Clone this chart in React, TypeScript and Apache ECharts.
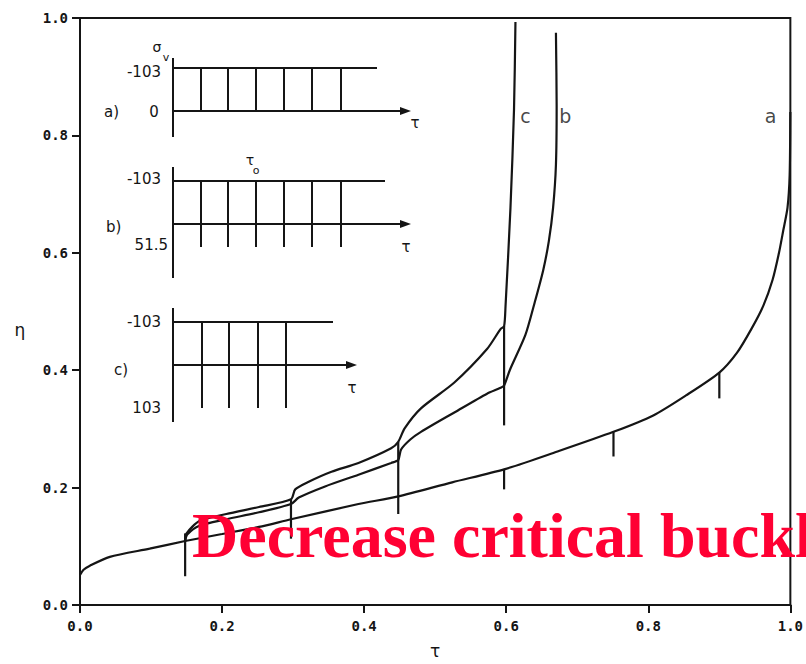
import React, { useEffect, useRef } from "react";
import * as echarts from "echarts";

// ---- data ----
const axisTicks = [0, 0.2, 0.4, 0.6, 0.8, 1.0];

const curveA: [number, number][] = [
  [0, 0.051], [0.005, 0.06], [0.014, 0.067], [0.042, 0.082], [0.098, 0.096],
  [0.148, 0.109], [0.2, 0.121], [0.252, 0.133], [0.297, 0.146], [0.392, 0.172],
  [0.448, 0.185], [0.524, 0.209], [0.597, 0.231], [0.671, 0.261], [0.751, 0.295],
  [0.807, 0.323], [0.853, 0.357], [0.9, 0.396], [0.925, 0.43], [0.945, 0.47],
  [0.962, 0.51], [0.975, 0.554], [0.984, 0.6], [0.99, 0.638], [0.996, 0.677],
  [0.999, 0.732], [1.0, 0.84],
];

const curveB: [number, number][] = [
  [0.148, 0.109], [0.151, 0.12], [0.168, 0.135], [0.206, 0.146], [0.252, 0.158],
  [0.297, 0.172], [0.308, 0.183], [0.345, 0.202], [0.392, 0.222], [0.438, 0.242],
  [0.448, 0.247], [0.452, 0.265], [0.465, 0.282], [0.48, 0.295], [0.527, 0.328],
  [0.573, 0.36], [0.592, 0.37], [0.597, 0.374], [0.605, 0.4], [0.627, 0.46],
  [0.64, 0.515], [0.652, 0.57], [0.66, 0.62], [0.666, 0.677], [0.67, 0.75],
  [0.671, 0.85], [0.67, 0.975],
];

const curveC: [number, number][] = [
  [0.148, 0.109], [0.15, 0.122], [0.168, 0.143], [0.206, 0.155], [0.252, 0.167],
  [0.297, 0.18], [0.303, 0.197], [0.322, 0.21], [0.354, 0.227], [0.392, 0.242],
  [0.438, 0.267], [0.448, 0.278], [0.457, 0.301], [0.48, 0.335], [0.527, 0.379],
  [0.573, 0.436], [0.592, 0.47], [0.597, 0.475], [0.599, 0.508], [0.606, 0.677],
  [0.611, 0.845], [0.613, 0.993],
];

// vertical jump lines (tau, top eta, bottom eta)
const jumpTau = [0.148, 0.297, 0.448, 0.597, 0.597, 0.751, 0.9];
const jumpTop = [0.122, 0.18, 0.278, 0.475, 0.231, 0.295, 0.396];
const jumpBottom = [0.049, 0.113, 0.155, 0.306, 0.197, 0.253, 0.352];

// curve labels
const curveLabelNames = ["c", "b", "a"];
const curveLabelTau = [0.627, 0.683, 0.972];
const curveLabelEta = [0.833, 0.833, 0.833];

// inset schematic texts
const insetNames = ["a)", "b)", "c)"];
const insetTopValues = ["-103", "-103", "-103"];
const insetBottomValues = ["0", "51.5", "103"];

const INK = "#151515";

function buildInsets(): any[] {
  const els: any[] = [];
  const line = (x1: number, y1: number, x2: number, y2: number) =>
    els.push({
      type: "line",
      shape: { x1, y1, x2, y2 },
      style: { stroke: INK, lineWidth: 2 },
    });
  const arrow = (x: number, y: number) =>
    els.push({
      type: "polygon",
      shape: { points: [[x, y], [x - 11, y - 4], [x - 11, y + 4]] },
      style: { fill: INK },
    });
  const txt = (
    s: string,
    x: number,
    y: number,
    align: string,
    size = 15
  ) =>
    els.push({
      type: "text",
      x,
      y,
      style: {
        text: s,
        fill: INK,
        fontSize: size,
        fontFamily: "DejaVu Sans",
        align,
        verticalAlign: "middle",
      },
    });

  const pulseX6 = [201, 228, 256, 284, 312, 341];
  const pulseX4 = [202, 229, 258, 286];

  // a)
  line(173, 58, 173, 137);
  line(173, 68, 377, 68);
  line(173, 111, 404, 111);
  arrow(411, 111);
  pulseX6.forEach((x) => line(x, 68, x, 111));
  txt("σ", 157, 47, "center", 14);
  txt("v", 166, 57, "center", 11);
  txt(insetTopValues[0], 161, 72, "right");
  txt(insetBottomValues[0], 154, 112, "center");
  txt(insetNames[0], 104, 112, "left");
  txt("τ", 415, 123, "center");

  // b)
  line(173, 167, 173, 278);
  line(173, 181, 385, 181);
  line(173, 224, 404, 224);
  arrow(411, 224);
  pulseX6.forEach((x) => line(x, 181, x, 247));
  txt("τ", 250, 160, "center", 14);
  txt("o", 256, 170, "center", 11);
  txt(insetTopValues[1], 161, 179, "right");
  txt(insetBottomValues[1], 168, 245, "right");
  txt(insetNames[1], 106, 227, "left");
  txt("τ", 406, 247, "center");

  // c)
  line(173, 308, 173, 422);
  line(173, 322, 333, 322);
  line(173, 365, 350, 365);
  arrow(357, 365);
  pulseX4.forEach((x) => line(x, 322, x, 408));
  txt(insetTopValues[2], 161, 322, "right");
  txt(insetBottomValues[2], 161, 408, "right");
  txt(insetNames[2], 114, 370, "left");
  txt("τ", 352, 388, "center");

  // y-axis title
  els.push({
    type: "text",
    x: 20,
    y: 330,
    style: {
      text: "η",
      fill: INK,
      fontSize: 17,
      fontFamily: "DejaVu Sans",
      align: "center",
      verticalAlign: "middle",
    },
  });

  // red overlay text
  els.push({
    type: "text",
    x: 192,
    y: 535,
    z: 100,
    style: {
      text: "Decrease critical buckl",
      fill: "#FF0033",
      fontSize: 64,
      fontWeight: "bold",
      fontFamily: "Liberation Serif",
      align: "left",
      verticalAlign: "middle",
    },
  });
  return els;
}

export default function App() {
  const ref = useRef<HTMLDivElement>(null);
  useEffect(() => {
    if (!ref.current) return;
    const chart = echarts.init(ref.current, undefined, { renderer: "svg" });
    const lineStyle = { color: INK, width: 2.2 };
    const curveSeries = [curveA, curveB, curveC].map((d) => ({
      type: "line",
      data: d,
      symbol: "none",
      smooth: 0.25,
      lineStyle,
      silent: true,
    }));
    const jumpSeries = jumpTau.map((t, i) => ({
      type: "line",
      data: [
        [t, jumpTop[i]],
        [t, jumpBottom[i]],
      ],
      symbol: "none",
      lineStyle,
      silent: true,
    }));
    const labelSeries = {
      type: "scatter",
      symbolSize: 0,
      data: curveLabelNames.map((n, i) => ({
        value: [curveLabelTau[i], curveLabelEta[i]],
        name: n,
      })),
      label: {
        show: true,
        position: "inside",
        formatter: (p: any) => p.name,
        color: INK,
        fontSize: 19,
        fontFamily: "DejaVu Sans",
      },
      silent: true,
    };
    const axisLabel = {
      fontFamily: "DejaVu Sans Mono",
      fontWeight: "bold",
      fontSize: 14,
      color: INK,
      formatter: (v: number) => v.toFixed(1),
    };
    chart.setOption({
      animation: false,
      backgroundColor: "#ffffff",
      grid: {
        left: 80,
        right: 11,
        top: 18,
        bottom: 52,
        show: true,
        borderColor: INK,
        borderWidth: 2,
      },
      xAxis: {
        type: "value",
        min: axisTicks[0],
        max: axisTicks[axisTicks.length - 1],
        interval: 0.2,
        name: "τ",
        nameLocation: "middle",
        nameGap: 37,
        nameTextStyle: { fontSize: 17, color: INK, fontFamily: "DejaVu Sans" },
        axisLine: { lineStyle: { color: INK, width: 2 } },
        axisTick: { length: 8, lineStyle: { color: INK, width: 2 } },
        axisLabel: { ...axisLabel, margin: 14 },
        splitLine: { show: false },
      },
      yAxis: {
        type: "value",
        min: axisTicks[0],
        max: axisTicks[axisTicks.length - 1],
        interval: 0.2,
        axisLine: { lineStyle: { color: INK, width: 2 } },
        axisTick: { length: 8, lineStyle: { color: INK, width: 2 } },
        axisLabel: { ...axisLabel, margin: 12 },
        splitLine: { show: false },
      },
      series: [...curveSeries, ...jumpSeries, labelSeries],
      graphic: buildInsets(),
    });
    return () => chart.dispose();
  }, []);
  return (
    <div
      ref={ref}
      style={{
        position: "fixed",
        left: 0,
        top: 0,
        width: 806,
        height: 664,
        background: "#fff",
      }}
    />
  );
}
